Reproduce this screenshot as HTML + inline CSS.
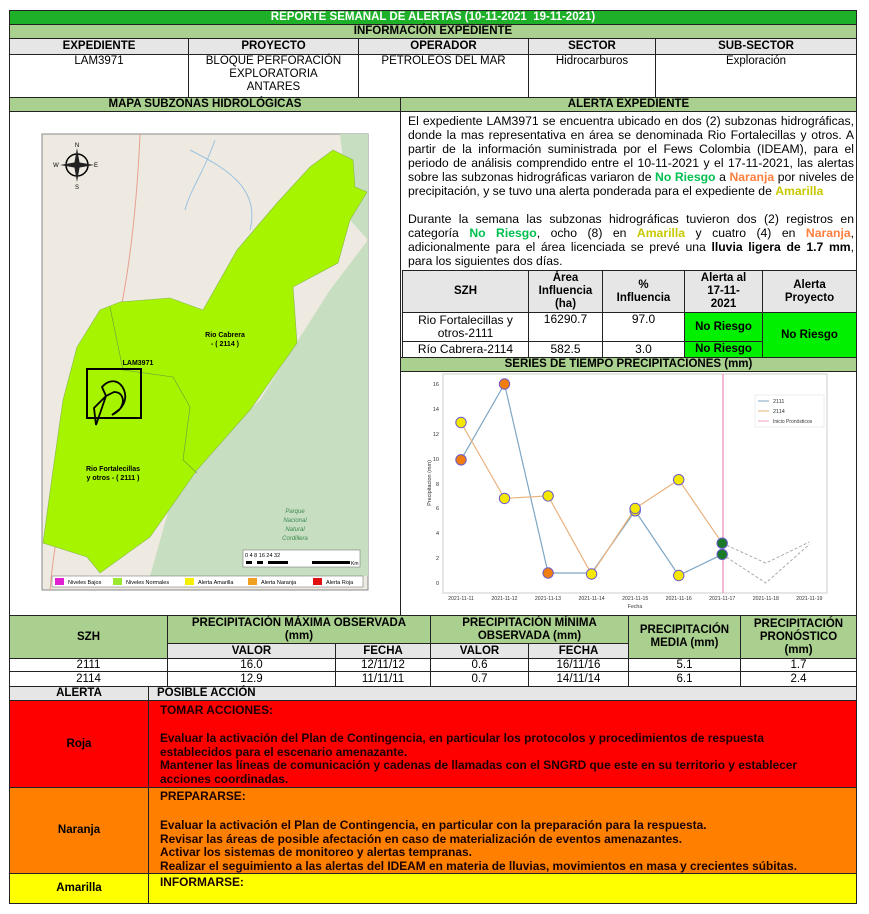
<!DOCTYPE html>
<html><head><meta charset="utf-8">
<style>
*{margin:0;padding:0;box-sizing:border-box}
body{width:869px;height:914px;background:#fff;position:relative;font-family:"Liberation Sans",sans-serif;overflow:hidden}
.a{position:absolute}
.c{position:absolute;border:1px solid #222;display:flex;align-items:center;justify-content:center;text-align:center;font-size:11.5px;line-height:13px;color:#000}
.b{font-weight:bold}
.g{background:#a9d08e}
.gr{background:#e7e6e6}
.t{font-family:"Liberation Sans",sans-serif}
.txt{position:absolute;left:408px;width:446px;font-family:"Liberation Sans",sans-serif;font-size:12.2px;line-height:14px;text-align:justify;color:#000}
.act{position:absolute;left:160px;font-size:11.9px;font-weight:bold;line-height:13.5px;color:#1a0000}
</style></head><body>

<div class="c b" style="left:9px;top:10px;width:848px;height:15px;background:#1fb02a;color:#fff">REPORTE SEMANAL DE ALERTAS (10-11-2021&nbsp; 19-11-2021)</div>
<div class="c b g" style="left:9px;top:24px;width:848px;height:15px">INFORMACIÓN EXPEDIENTE</div>
<div class="c b gr" style="left:9px;top:38px;width:180px;height:17px">EXPEDIENTE</div>
<div class="c b gr" style="left:188px;top:38px;width:171px;height:17px">PROYECTO</div>
<div class="c b gr" style="left:358px;top:38px;width:171px;height:17px">OPERADOR</div>
<div class="c b gr" style="left:528px;top:38px;width:128px;height:17px">SECTOR</div>
<div class="c b gr" style="left:655px;top:38px;width:202px;height:17px">SUB-SECTOR</div>
<div class="c" style="left:9px;top:54px;width:180px;height:44px;align-items:flex-start">LAM3971</div>
<div class="c" style="left:188px;top:54px;width:171px;height:44px;align-items:flex-start">BLOQUE PERFORACIÓN<br>EXPLORATORIA<br>ANTARES</div>
<div class="c" style="left:358px;top:54px;width:171px;height:44px;align-items:flex-start">PETROLEOS DEL MAR</div>
<div class="c" style="left:528px;top:54px;width:128px;height:44px;align-items:flex-start">Hidrocarburos</div>
<div class="c" style="left:655px;top:54px;width:202px;height:44px;align-items:flex-start">Exploración</div>

<div class="c b g" style="left:9px;top:97px;width:392px;height:15px">MAPA SUBZONAS HIDROLÓGICAS</div>
<div class="c b g" style="left:400px;top:97px;width:457px;height:15px">ALERTA EXPEDIENTE</div>
<div class="a" style="left:9px;top:111px;width:392px;height:505px;border-left:1px solid #222;border-right:1px solid #222"></div>
<div class="a" style="left:856px;top:111px;width:1px;height:160px;background:#222"></div>

<svg class="a" style="left:0;top:0" width="869" height="914">
<rect x="42" y="134" width="326" height="456" fill="#eeeae2" stroke="#888" stroke-width="1"/>
<polygon points="178,477 260,400 330,290 368,240 368,576 150,576" fill="#c8dec0"/>
<polygon points="340,134 368,134 368,240 350,220" fill="#c8dec0"/>
<path d="M140,134 C135,250 120,330 100,390 C85,440 60,480 50,590" stroke="#e8a090" fill="none" stroke-width="1"/>
<path d="M215,140 C205,170 190,190 185,210 M190,150 C230,170 260,190 250,230" stroke="#9cc3e0" fill="none" stroke-width="1"/>
<polygon points="333,150 353,160 355,187 367,192 350,220 338,263 293,287 297,343 250,410 197,470 150,537 100,573 87,557 43,543 53,470 63,400 77,347 100,310 120,302 170,298 203,310 237,250 277,203 310,167" fill="#a6f400" stroke="#8ab850" stroke-width="0.6"/>
<polyline points="110,307 123,370 173,377 190,407 183,460 197,473" fill="none" stroke="#6a9a40" stroke-width="0.6"/>
<rect x="87" y="369" width="54" height="49" fill="none" stroke="#000" stroke-width="2"/>
<path d="M102,387 C110,378 120,380 124,390 C128,400 122,410 112,415 L120,409 C126,400 122,392 114,392 L106,396 Z M106,396 L94,408 L96,425 Z" fill="none" stroke="#000" stroke-width="1.8"/>
<text x="225" y="337" font-size="7" font-weight="bold" text-anchor="middle">Rio Cabrera</text>
<text x="225" y="346" font-size="7" font-weight="bold" text-anchor="middle">- ( 2114 )</text>
<text x="138" y="365" font-size="7" font-weight="bold" text-anchor="middle">LAM3971</text>
<text x="113" y="471" font-size="7" font-weight="bold" text-anchor="middle">Rio Fortalecillas</text>
<text x="113" y="480" font-size="7" font-weight="bold" text-anchor="middle">y otros - ( 2111 )</text>
<text x="295" y="513" font-size="6" fill="#3a8a50" text-anchor="middle" font-style="italic">Parque</text>
<text x="295" y="522" font-size="6" fill="#3a8a50" text-anchor="middle" font-style="italic">Nacional</text>
<text x="295" y="531" font-size="6" fill="#3a8a50" text-anchor="middle" font-style="italic">Natural</text>
<text x="295" y="540" font-size="6" fill="#3a8a50" text-anchor="middle" font-style="italic">Cordillera</text>
<circle cx="77" cy="165" r="11" fill="none" stroke="#000" stroke-width="1.5"/>
<path d="M77,148 L80,165 L77,182 L74,165 Z M60,165 L77,162 L94,165 L77,168 Z" fill="#222"/>
<text x="77" y="147" font-size="6" text-anchor="middle">N</text>
<text x="77" y="189" font-size="6" text-anchor="middle">S</text>
<text x="56" y="167" font-size="6" text-anchor="middle">W</text>
<text x="96" y="167" font-size="6" text-anchor="middle">E</text>
<rect x="243" y="550" width="117" height="17" fill="#fff" stroke="#666" stroke-width="0.5"/>
<text x="245" y="557" font-size="5.5">0   4   8       16      24      32</text>
<rect x="246" y="561" width="104" height="3" fill="#000"/>
<rect x="252" y="561" width="5" height="3" fill="#fff"/><rect x="263" y="561" width="5" height="3" fill="#fff"/><rect x="288" y="561" width="24" height="3" fill="#fff"/>
<text x="351" y="565" font-size="5">Km</text>
<rect x="52" y="576" width="311" height="11" fill="#fff" stroke="#666" stroke-width="0.5"/>
<rect x="55" y="578" width="9" height="7" fill="#e020d0"/><text x="68" y="584" font-size="5.5">Niveles Bajos</text>
<rect x="113" y="578" width="9" height="7" fill="#9be830"/><text x="126" y="584" font-size="5.5">Niveles Normales</text>
<rect x="185" y="578" width="9" height="7" fill="#f4f000"/><text x="198" y="584" font-size="5.5">Alerta Amarilla</text>
<rect x="248" y="578" width="9" height="7" fill="#f0a020"/><text x="261" y="584" font-size="5.5">Alerta Naranja</text>
<rect x="313" y="578" width="9" height="7" fill="#e01010"/><text x="326" y="584" font-size="5.5">Alerta Roja</text>
</svg>

<div class="txt" style="top:114px">El expediente LAM3971 se encuentra ubicado en dos (2) subzonas hidrográficas, donde la mas representativa en área se denominada Rio Fortalecillas y otros. A partir de la información suministrada por el Fews Colombia (IDEAM), para el periodo de análisis comprendido entre el 10-11-2021 y el 17-11-2021, las alertas sobre las subzonas hidrográficas variaron de <b style="color:#00c050">No Riesgo</b> a <b style="color:#ff7f3f">Naranja</b> por niveles de precipitación, y se tuvo una alerta ponderada para el expediente de <b style="color:#c8c800">Amarilla</b></div>
<div class="txt" style="top:212px">Durante la semana las subzonas hidrográficas tuvieron dos (2) registros en categoría <b style="color:#00c050">No Riesgo</b>, ocho (8) en <b style="color:#c8c800">Amarilla</b> y cuatro (4) en <b style="color:#ff7f3f">Naranja</b>, adicionalmente para el área licenciada se prevé una <b>lluvia ligera de 1.7 mm</b>, para los siguientes dos días.</div>

<div class="c b gr t" style="left:402px;top:270px;width:127px;height:43px">SZH</div>
<div class="c b gr t" style="left:528px;top:270px;width:75px;height:43px">Área<br>Influencia<br>(ha)</div>
<div class="c b gr t" style="left:602px;top:270px;width:83px;height:43px">%<br>Influencia</div>
<div class="c b gr t" style="left:684px;top:270px;width:79px;height:43px">Alerta al<br>17-11-<br>2021</div>
<div class="c b gr t" style="left:762px;top:270px;width:95px;height:43px">Alerta<br>Proyecto</div>
<div class="c t" style="left:402px;top:312px;width:127px;height:30px;font-size:12px">Rio Fortalecillas y<br>otros-2111</div>
<div class="c t" style="left:528px;top:312px;width:75px;height:30px;align-items:flex-start;font-size:12px">16290.7</div>
<div class="c t" style="left:602px;top:312px;width:83px;height:30px;align-items:flex-start;font-size:12px">97.0</div>
<div class="c b t" style="left:684px;top:312px;width:79px;height:30px;background:#00f000">No Riesgo</div>
<div class="c b t" style="left:762px;top:312px;width:95px;height:46px;background:#00f000">No Riesgo</div>
<div class="c t" style="left:402px;top:341px;width:127px;height:17px;font-size:12px">Río Cabrera-2114</div>
<div class="c t" style="left:528px;top:341px;width:75px;height:17px;font-size:12px">582.5</div>
<div class="c t" style="left:602px;top:341px;width:83px;height:17px;font-size:12px">3.0</div>
<div class="c b t" style="left:684px;top:341px;width:79px;height:17px;background:#00f000">No Riesgo</div>
<div class="c b t g" style="left:400px;top:357px;width:457px;height:15px">SERIES DE TIEMPO PRECIPITACIONES (mm)</div>
<div class="a" style="left:856px;top:371px;width:1px;height:245px;background:#222"></div>

<svg class="a" style="left:0;top:0" width="869" height="914" font-family="Liberation Sans">
<rect x="443" y="374" width="384" height="219" fill="#fff" stroke="#ddd" stroke-width="1.5"/>
<g font-size="5.5" fill="#333" text-anchor="end">
<text x="439" y="585">0</text><text x="439" y="560">2</text><text x="439" y="535">4</text><text x="439" y="510">6</text><text x="439" y="486">8</text><text x="439" y="461">10</text><text x="439" y="436">12</text><text x="439" y="411">14</text><text x="439" y="386">16</text>
</g>
<text x="0" y="0" font-size="5.5" fill="#333" text-anchor="middle" transform="translate(431,483) rotate(-90)">Precipitacion (mm)</text>
<g font-size="5.2" fill="#333" text-anchor="middle">
<text x="461" y="600">2021-11-11</text><text x="504.5" y="600">2021-11-12</text><text x="548" y="600">2021-11-13</text><text x="591.6" y="600">2021-11-14</text><text x="635.2" y="600">2021-11-15</text><text x="678.7" y="600">2021-11-16</text><text x="722.2" y="600">2021-11-17</text><text x="765.8" y="600">2021-11-18</text><text x="809.3" y="600">2021-11-19</text>
<text x="635" y="608">Fecha</text>
</g>
<line x1="723" y1="374" x2="723" y2="593" stroke="#f0a0c8" stroke-width="1.5"/>
<polyline points="461,459.8 504.5,384 548.1,573 591.6,573 635.2,510.8 678.7,575.5 722.2,554.4" fill="none" stroke="#7ea6c4" stroke-width="1.2"/>
<polyline points="461,422.5 504.5,498.4 548.1,495.9 591.6,574.3 635.2,508.4 678.7,479.7 722.2,543.2" fill="none" stroke="#eab27e" stroke-width="1.2"/>
<polyline points="722.2,554.4 765.8,583 809.3,544.4" fill="none" stroke="#aaa" stroke-width="1" stroke-dasharray="3,2"/>
<polyline points="722.2,543.2 765.8,563.1 809.3,542" fill="none" stroke="#aaa" stroke-width="1" stroke-dasharray="3,2"/>
<g stroke="#6a5acd" stroke-width="1">
<circle cx="461" cy="422.5" r="5.2" fill="#f5e800"/>
<circle cx="461" cy="459.8" r="5.2" fill="#f07d10"/>
<circle cx="504.5" cy="384" r="5.2" fill="#f07d10"/>
<circle cx="504.5" cy="498.4" r="5.2" fill="#f5e800"/>
<circle cx="548.1" cy="495.9" r="5.2" fill="#f5e800"/>
<circle cx="548.1" cy="573" r="5.2" fill="#f07d10"/>
<circle cx="591.6" cy="574" r="5.2" fill="#f5e800"/>
<circle cx="635.2" cy="510.8" r="5.2" fill="#f5e800"/>
<circle cx="635.2" cy="508.4" r="5.2" fill="#f5e800"/>
<circle cx="678.7" cy="479.7" r="5.2" fill="#f5e800"/>
<circle cx="678.7" cy="575.5" r="5.2" fill="#f5e800"/>
<circle cx="722.2" cy="543.2" r="5.2" fill="#1a7a2a"/>
<circle cx="722.2" cy="554.4" r="5.2" fill="#1a7a2a"/>
</g>
<rect x="755" y="395" width="69" height="32" fill="#fff" stroke="#eee"/>
<line x1="758" y1="401" x2="769" y2="401" stroke="#7ea6c4"/><text x="773" y="403" font-size="5.5" fill="#333">2111</text>
<line x1="758" y1="411" x2="769" y2="411" stroke="#eab27e"/><text x="773" y="413" font-size="5.5" fill="#333">2114</text>
<line x1="758" y1="421" x2="769" y2="421" stroke="#f0a0c8"/><text x="773" y="423" font-size="5" fill="#333">Inicio Pronósticos</text>
</svg>

<div class="c b g" style="left:9px;top:615px;width:159px;height:44px">SZH</div>
<div class="c b g" style="left:167px;top:615px;width:264px;height:29px">PRECIPITACIÓN MÁXIMA OBSERVADA<br>(mm)</div>
<div class="c b g" style="left:430px;top:615px;width:199px;height:29px">PRECIPITACIÓN MÍNIMA<br>OBSERVADA (mm)</div>
<div class="c b g" style="left:628px;top:615px;width:113px;height:44px">PRECIPITACIÓN<br>MEDIA (mm)</div>
<div class="c b g" style="left:740px;top:615px;width:117px;height:44px">PRECIPITACIÓN<br>PRONÓSTICO<br>(mm)</div>
<div class="c b gr" style="left:167px;top:643px;width:169px;height:16px">VALOR</div>
<div class="c b gr" style="left:335px;top:643px;width:96px;height:16px">FECHA</div>
<div class="c b gr" style="left:430px;top:643px;width:99px;height:16px">VALOR</div>
<div class="c b gr" style="left:528px;top:643px;width:101px;height:16px">FECHA</div>
<div class="c" style="left:9px;top:658px;width:159px;height:14px">2111</div>
<div class="c" style="left:167px;top:658px;width:169px;height:14px">16.0</div>
<div class="c" style="left:335px;top:658px;width:96px;height:14px">12/11/12</div>
<div class="c" style="left:430px;top:658px;width:99px;height:14px">0.6</div>
<div class="c" style="left:528px;top:658px;width:101px;height:14px">16/11/16</div>
<div class="c" style="left:628px;top:658px;width:113px;height:14px">5.1</div>
<div class="c" style="left:740px;top:658px;width:117px;height:14px">1.7</div>
<div class="c" style="left:9px;top:671px;width:159px;height:16px">2114</div>
<div class="c" style="left:167px;top:671px;width:169px;height:16px">12.9</div>
<div class="c" style="left:335px;top:671px;width:96px;height:16px">11/11/11</div>
<div class="c" style="left:430px;top:671px;width:99px;height:16px">0.7</div>
<div class="c" style="left:528px;top:671px;width:101px;height:16px">14/11/14</div>
<div class="c" style="left:628px;top:671px;width:113px;height:16px">6.1</div>
<div class="c" style="left:740px;top:671px;width:117px;height:16px">2.4</div>
<div class="c b gr" style="left:9px;top:686px;width:140px;height:15px">ALERTA</div>
<div class="c b gr" style="left:148px;top:686px;width:709px;height:15px;justify-content:flex-start;padding-left:8px">POSIBLE ACCIÓN</div>
<div class="c b" style="left:9px;top:700px;width:140px;height:88px;background:#ff0000">Roja</div>
<div class="c" style="left:148px;top:700px;width:709px;height:88px;background:#ff0000"></div>
<div class="c b" style="left:9px;top:787px;width:140px;height:87px;background:#ff8000">Naranja</div>
<div class="c" style="left:148px;top:787px;width:709px;height:87px;background:#ff8000"></div>
<div class="c b" style="left:9px;top:873px;width:140px;height:31px;background:#ffff00">Amarilla</div>
<div class="c" style="left:148px;top:873px;width:709px;height:31px;background:#ffff00"></div>

<div class="act" style="top:704px">TOMAR ACCIONES:</div>
<div class="act" style="top:732px">Evaluar la activación del Plan de Contingencia, en particular los protocolos y procedimientos de respuesta<br>establecidos para el escenario amenazante.<br>Mantener las líneas de comunicación y cadenas de llamadas con el SNGRD que este en su territorio y establecer<br>acciones coordinadas.</div>
<div class="act" style="top:790px">PREPARARSE:</div>
<div class="act" style="top:819px">Evaluar la activación el Plan de Contingencia, en particular con la preparación para la respuesta.<br>Revisar las áreas de posible afectación en caso de materialización de eventos amenazantes.<br>Activar los sistemas de monitoreo y alertas tempranas.<br>Realizar el seguimiento a las alertas del IDEAM en materia de lluvias, movimientos en masa y crecientes súbitas.</div>
<div class="act" style="top:876px">INFORMARSE:</div>
</body></html>
